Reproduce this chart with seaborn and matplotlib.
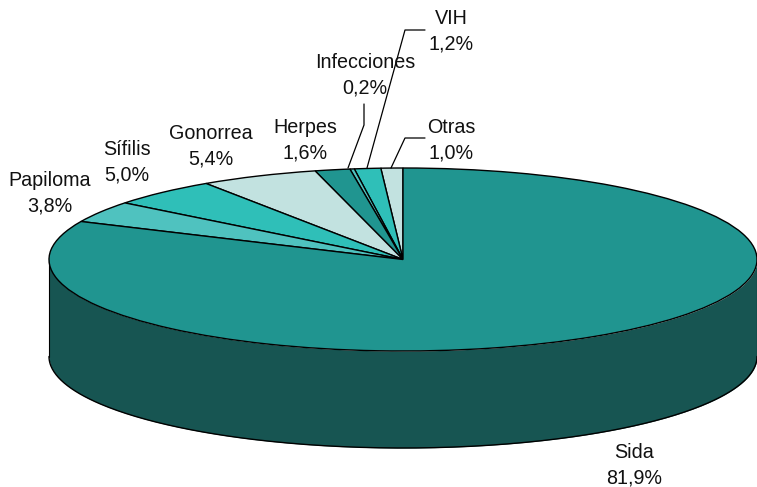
import numpy as np
import matplotlib
matplotlib.use('Agg')
import matplotlib.pyplot as plt
import seaborn as sns

# slices go counterclockwise starting at 12 o'clock
labels = ['Otras', 'VIH', 'Infecciones', 'Herpes', 'Gonorrea', 'Sífilis', 'Papiloma', 'Sida']
values = [1.0, 1.2, 0.2, 1.6, 5.4, 5.0, 3.8, 81.9]
value_text = ['1,0%', '1,2%', '0,2%', '1,6%', '5,4%', '5,0%', '3,8%', '81,9%']
slice_colors = ['#c2e2e0', '#2fbfb8', '#4fc2bf', '#209590',
                '#c2e2e0', '#2fbfb8', '#4fc2bf', '#209590']
wall_color = '#175552'

sns.set_theme(style='white')
plt.rcParams['font.family'] = ['Liberation Sans', 'DejaVu Sans']

# pie geometry in pixels of the picture
W, H = 757, 487
CX, CY = 403, 259.5
RX, RY = 354, 91.5
DEPTH = 97


def px(x, y):
    """Picture pixel -> data coords of the squashed pie axes"""
    return (x - CX) / RX, (CY - y) / RY


fig = plt.figure(figsize=(W / 100, H / 100), dpi=100)
ax = fig.add_axes([0, 0, 1, 1])

# side wall of the cylinder, only the front half shows
t = np.linspace(np.pi, 2 * np.pi, 300)
ax.fill_between(np.cos(t), np.sin(t), np.sin(t) - DEPTH / RY,
                color=wall_color, lw=0, zorder=1)
ax.plot(np.cos(t), np.sin(t) - DEPTH / RY, color='black', lw=1.0, zorder=2)
for side in (-1, 1):
    ax.plot([side, side], [0, -DEPTH / RY], color='black', lw=0.8, zorder=2)

wedges, _ = ax.pie(values, colors=sns.color_palette(slice_colors), startangle=90,
                   counterclock=True, radius=1,
                   wedgeprops={'edgecolor': 'black', 'linewidth': 1.0, 'zorder': 3})

# squash the round pie into the ellipse
ax.set_aspect('auto')
ax.set_xlim(px(0, 0)[0], px(W, 0)[0])
ax.set_ylim(px(0, H)[1], px(0, 0)[1])
ax.axis('off')

# label centres, same order as labels
label_pos = [(451, 140), (451, 31), (365, 75), (305, 140),
             (211, 146), (127, 162), (50, 193), (634, 465)]
for name, val, (x, y) in zip(labels, value_text, label_pos):
    tx, ty = px(x, y)
    ax.text(tx, ty, f'{name}\n{val}', ha='center', va='center', fontsize=14.2,
            color='#111111', linespacing=1.4, zorder=5)

# leader lines for the thin slices
leaders = [
    [(391, 168), (405, 138), (425, 138)],
    [(367, 168), (405, 30), (425, 30)],
    [(348, 168), (364, 125), (364, 104)],
]
for pts in leaders:
    xy = np.array([px(*p) for p in pts])
    ax.plot(xy[:, 0], xy[:, 1], color='black', lw=0.9, zorder=4, clip_on=False)

fig.savefig('out.png', dpi=100)
